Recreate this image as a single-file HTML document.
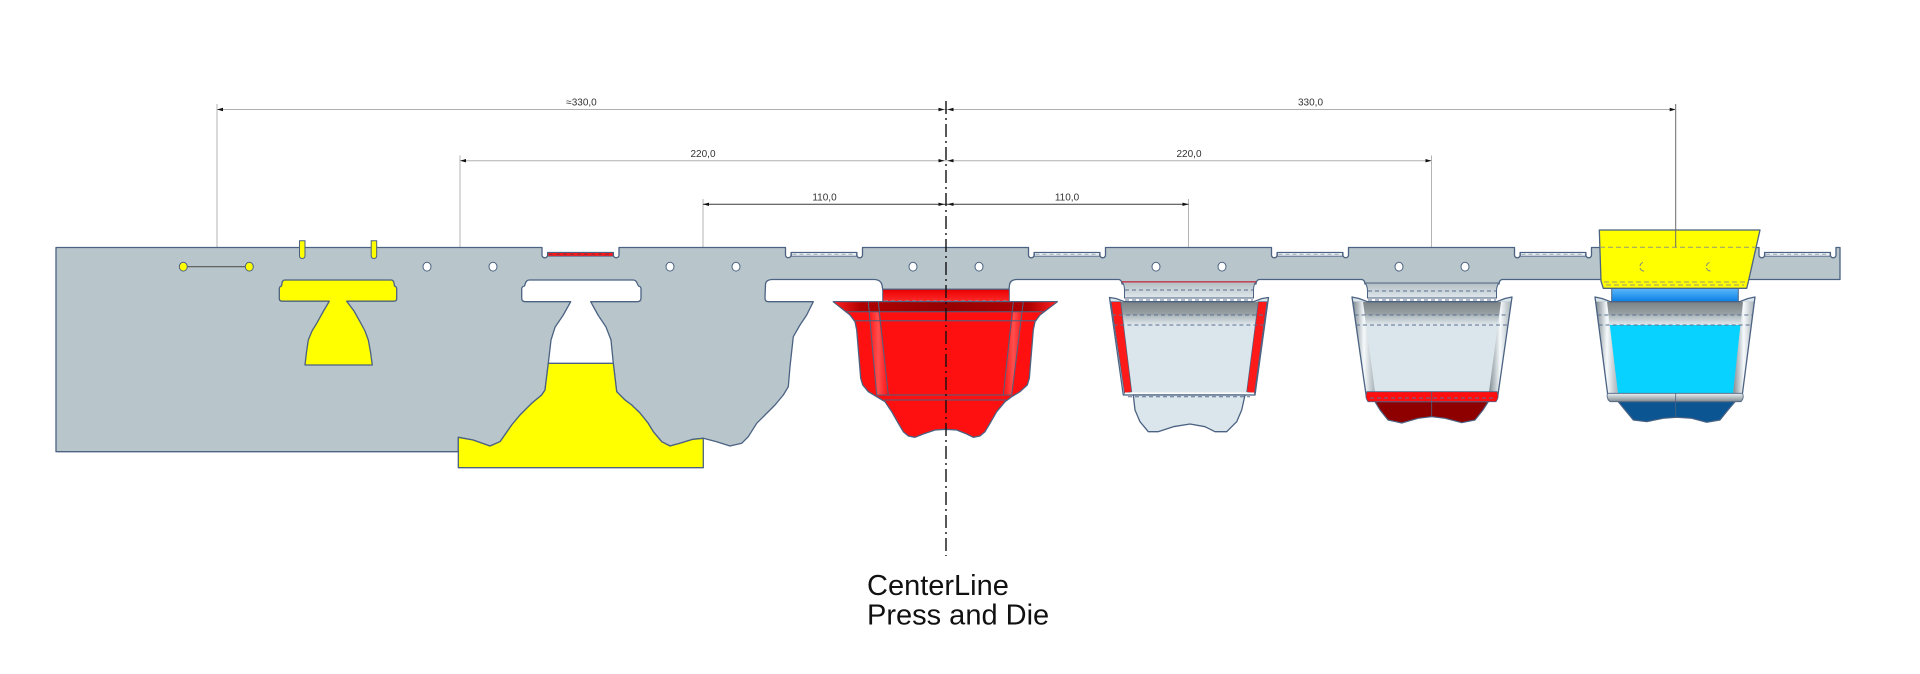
<!DOCTYPE html>
<html><head><meta charset="utf-8"><style>
html,body{margin:0;padding:0;background:#fff;}
svg{display:block;}
text{font-family:"Liberation Sans",Arial,sans-serif;}
</style></head><body>
<svg width="1920" height="674" viewBox="0 0 1920 674" xmlns="http://www.w3.org/2000/svg">
<defs>
<linearGradient id="redNeck" x1="0" y1="0" x2="0" y2="1"><stop offset="0" stop-color="#e80000"/><stop offset="1" stop-color="#ff2a2a"/></linearGradient>
<linearGradient id="redBand" x1="0" y1="0" x2="1" y2="0"><stop offset="0" stop-color="#ff2020"/><stop offset="0.12" stop-color="#b00000"/><stop offset="0.5" stop-color="#960000"/><stop offset="0.88" stop-color="#b00000"/><stop offset="1" stop-color="#ff2020"/></linearGradient>
<linearGradient id="redWall" x1="0" y1="0" x2="1" y2="0"><stop offset="0" stop-color="#ff1010"/><stop offset="0.5" stop-color="#ff6a6a"/><stop offset="1" stop-color="#ff1010"/></linearGradient>
<linearGradient id="darkBand" x1="0" y1="0" x2="0" y2="1"><stop offset="0" stop-color="#7b8286"/><stop offset="1" stop-color="#9ca4a8"/></linearGradient>
<linearGradient id="lightBand" x1="0" y1="0" x2="0" y2="1"><stop offset="0" stop-color="#aab5ba"/><stop offset="1" stop-color="#e1e9ed"/></linearGradient>
<linearGradient id="neckGray" x1="0" y1="0" x2="0" y2="1"><stop offset="0" stop-color="#b2bec4"/><stop offset="1" stop-color="#e0e8ec"/></linearGradient>
<linearGradient id="wall" x1="0" y1="0" x2="1" y2="0"><stop offset="0" stop-color="#7f8b92"/><stop offset="0.5" stop-color="#f6fafc"/><stop offset="1" stop-color="#a7b1b7"/></linearGradient>
<linearGradient id="blueNeck" x1="0" y1="0" x2="0" y2="1"><stop offset="0" stop-color="#6cc4ff"/><stop offset="1" stop-color="#0a7fe6"/></linearGradient>
<linearGradient id="botBand" x1="0" y1="0" x2="0" y2="1"><stop offset="0" stop-color="#eef3f5"/><stop offset="1" stop-color="#7d888e"/></linearGradient>
</defs>

<g stroke="#b4b4b4" stroke-width="1" fill="none">
<line x1="217" y1="104" x2="217" y2="266.7"/>
<line x1="460" y1="155.5" x2="460" y2="247.5"/>
<line x1="703" y1="199" x2="703" y2="247.5"/>
<line x1="1188.5" y1="199" x2="1188.5" y2="247.5"/>
<line x1="1431.5" y1="155.5" x2="1431.5" y2="247.5"/>
</g>

<path fill="#b8c6cb" stroke="#4b6282" stroke-width="1.3" stroke-linejoin="round" d="
M56,247.5 L542,247.5 L542,255 A2.8,2.8 0 0 0 547.6,255 L547.6,252.5 L613.4,252.5 L613.4,255 A2.8,2.8 0 0 0 619,255 L619,247.5
L785.5,247.5 L785.5,255 A2.8,2.8 0 0 0 791.1,255 L791.1,252.5 L856.9,252.5 L856.9,255 A2.8,2.8 0 0 0 862.5,255 L862.5,247.5
L1028.5,247.5 L1028.5,255 A2.8,2.8 0 0 0 1034.1,255 L1034.1,252.5 L1099.9,252.5 L1099.9,255 A2.8,2.8 0 0 0 1105.5,255 L1105.5,247.5
L1271.5,247.5 L1271.5,255 A2.8,2.8 0 0 0 1277.1,255 L1277.1,252.5 L1342.9,252.5 L1342.9,255 A2.8,2.8 0 0 0 1348.5,255 L1348.5,247.5
L1514.5,247.5 L1514.5,255 A2.8,2.8 0 0 0 1520.1,255 L1520.1,252.5 L1585.9,252.5 L1585.9,255 A2.8,2.8 0 0 0 1591.5,255 L1591.5,247.5
L1759,247.5 L1759,255 A2.8,2.8 0 0 0 1764.6,255 L1764.6,252.5 L1830.4,252.5 L1830.4,255 A2.8,2.8 0 0 0 1836,255 L1836,247.5
L1840,247.5 L1840,279.5
L1502,279.5 Q1499,280.5 1499,284 L1365,284 Q1365,280.5 1362,279.5
L1259,279.5 Q1256,280.5 1256,284 L1122,284 Q1122,280.5 1119,279.5
L1016,279.5 Q1010,280 1009.5,285 L1009,289.3 L882.7,289.3 L882,285 Q881,280 875,279.5
L771.7,279.5 Q766,280 765.5,284 L765,298 Q765,301.7 768.5,301.7 L813.3,301.7
L806.7,315 L800,325 L793.3,336.7 L790,366.7 L788.3,386.7 L783.3,395 L775,405 L765,415 L756.7,423.3 L748.3,436.7 L741.7,443.3 L730,446 L716.7,441.7 L703.3,438.3
L693,439.3 L680,443.3 L670,446 L661.7,441.7 L653.3,431.7 L648,423 L640,413 L631.7,405 L625,400 L616.7,391.7 L613.3,363.3 L611,340 L606,327 L598,315 L590.7,301.7
L637,301.7 Q641,301.7 641,298 L641,289 Q641,286.5 638.5,286 L637,283 Q636,280 633,280 L529.5,280 Q526.5,280 525.5,283 L524.5,286 Q521.7,286.5 521.7,289 L521.7,298 Q521.7,301.7 525.5,301.7 L570.7,301.7
L563.3,315 L555,327.3 L551,340 L548.3,363.3 L545,390 L541.7,395 L531.7,403.3 L520,415 L511.7,425 L500,441.7 L490,446 L473,440 L458.3,437.3 L458.3,451.7 L56,451.7 Z"/>

<g stroke="#4b6282" stroke-width="0.8">
<rect x="548" y="252.6" width="65" height="3.6" fill="#ff1a1a"/>
<rect x="791.5" y="252.6" width="65" height="3.6" fill="#e6ecef"/>
<rect x="1034.5" y="252.6" width="65" height="3.6" fill="#e6ecef"/>
<rect x="1277.5" y="252.6" width="65" height="3.6" fill="#e6ecef"/>
<rect x="1520.5" y="252.6" width="65" height="3.6" fill="#e6ecef"/>
<rect x="1765" y="252.6" width="65" height="3.6" fill="#e6ecef"/>
</g>
<g stroke-width="1" stroke-dasharray="4 3" fill="none">
<line x1="549" y1="254.3" x2="612" y2="254.3" stroke="#8a2a3a"/>
<line x1="792.5" y1="254.3" x2="855.5" y2="254.3" stroke="#9aa8b8"/>
<line x1="1035.5" y1="254.3" x2="1098.5" y2="254.3" stroke="#9aa8b8"/>
<line x1="1278.5" y1="254.3" x2="1341.5" y2="254.3" stroke="#9aa8b8"/>
<line x1="1521.5" y1="254.3" x2="1584.5" y2="254.3" stroke="#9aa8b8"/>
<line x1="1766" y1="254.3" x2="1829" y2="254.3" stroke="#9aa8b8"/>
</g>

<path fill="#ffff00" stroke="#4b6282" stroke-width="1.3" stroke-linejoin="round" d="M458.3,437.3 L473,440 L490,446 L500,441.7 L511.7,425 L520,415 L531.7,403.3 L541.7,395 L545,390 L548.3,363.3 L613.3,363.3 L616.7,391.7 L625,400 L631.7,405 L640,413 L648,423 L653.3,431.7 L661.7,441.7 L670,446 L680,443.3 L693,439.3 L703.3,438.3 L703.3,467.7 L458.3,467.7 Z"/>

<path fill="#ffff00" stroke="#4b6282" stroke-width="1.3" stroke-linejoin="round" d="M285,280 L391,280 Q393.5,280 394,283 L394.5,286 Q396.7,286.5 396.7,289 L396.7,298.5 Q396.7,301.2 394,301.2 L346.7,301.2 L354,311 L360,321.7 L365,331 L368.3,340 L370.5,352 L372.3,365 L305,365 L306.5,352 L308.3,340 L312,331 L316.7,323.3 L323,312 L329.3,301.2 L282,301.2 Q279.3,301.2 279.3,298.5 L279.3,289 Q279.3,286.5 281.5,286 L282,283 Q282.5,280 285,280 Z"/>

<path fill="#ffff00" stroke="#4b6282" stroke-width="1" d="M299.5,240.8 L305,240.8 L305,255.5 Q305,258.5 302.2,258.5 Q299.5,258.5 299.5,255.5 Z"/>
<path fill="#ffff00" stroke="#4b6282" stroke-width="1" d="M371.2,240.8 L376.7,240.8 L376.7,255.5 Q376.7,258.5 373.9,258.5 Q371.2,258.5 371.2,255.5 Z"/>

<line x1="183.3" y1="266.7" x2="249.3" y2="266.7" stroke="#555" stroke-width="1.2"/>
<g stroke="#4b6282" stroke-width="1">
<ellipse cx="183.3" cy="266.7" rx="4" ry="4.4" fill="#ffff00"/>
<ellipse cx="249.3" cy="266.7" rx="4" ry="4.4" fill="#ffff00"/>
<g fill="#fff">
<ellipse cx="427" cy="266.7" rx="4" ry="4.4"/><ellipse cx="493" cy="266.7" rx="4" ry="4.4"/>
<ellipse cx="670" cy="266.7" rx="4" ry="4.4"/><ellipse cx="736" cy="266.7" rx="4" ry="4.4"/>
<ellipse cx="913" cy="266.7" rx="4" ry="4.4"/><ellipse cx="979" cy="266.7" rx="4" ry="4.4"/>
<ellipse cx="1156" cy="266.7" rx="4" ry="4.4"/><ellipse cx="1222" cy="266.7" rx="4" ry="4.4"/>
<ellipse cx="1399" cy="266.7" rx="4" ry="4.4"/><ellipse cx="1465" cy="266.7" rx="4" ry="4.4"/>
</g>
</g>

<rect x="882.7" y="289.3" width="126.6" height="12.4" fill="url(#redNeck)" stroke="#4b6282" stroke-width="1"/>
<path fill="#ff1010" stroke="#4b6282" stroke-width="1.3" stroke-linejoin="round" d="M833.3,301.7 L1057.3,301.7 L1040,315 L1035,321.7 L1033.3,330 L1029.3,378.3 L1027.3,385 L1020,391.7 L1011.7,396.7 L1005,401.7 L996.7,411.7 L990,423.3 L985,431.7 L980,436 L973.3,437.3 L966.7,434 L956.7,430 L945.7,429.3 L935,430 L923.3,434 L915,437.3 L908.3,436 L903.3,431.7 L898.3,423.3 L891.7,411.7 L885,401.7 L876.7,396.7 L868.3,391.7 L862.7,385 L860.7,378.3 L856.7,330 L855,321.7 L850,315 Z"/>
<polygon points="834.5,302.3 1056,302.3 1043,311.7 847,311.7" fill="url(#redBand)"/>
<polygon points="868.3,311.7 878.3,311.7 888.3,395 876.7,395" fill="url(#redWall)" opacity="0.7"/>
<polygon points="1013.3,311.7 1023.3,311.7 1011.7,395 1003.3,395" fill="url(#redWall)" opacity="0.7"/>
<g stroke="#4b6282" stroke-width="1" fill="none">
<line x1="846.5" y1="311.7" x2="1044" y2="311.7"/>
<line x1="855.5" y1="320.7" x2="1035" y2="320.7"/>
<line x1="868.3" y1="301.7" x2="876.7" y2="395"/>
<line x1="878.3" y1="301.7" x2="888.3" y2="395"/>
<line x1="1023.3" y1="301.7" x2="1011.7" y2="395"/>
<line x1="1013.3" y1="301.7" x2="1003.3" y2="395"/>
<line x1="876.7" y1="395" x2="1011.7" y2="395"/>
<line x1="884" y1="400" x2="1006" y2="400"/>
</g>
<line x1="884" y1="300.5" x2="1008" y2="300.5" stroke="#c06070" stroke-width="1" stroke-dasharray="4 3"/>

<path d="M1122,281.7 L1256,281.7 Q1253.5,285 1253.5,290 L1253.5,298 L1124.5,298 L1124.5,290 Q1124.5,285 1122,281.7 Z" fill="url(#neckGray)" stroke="#4b6282" stroke-width="1"/>
<line x1="1122" y1="281.9" x2="1256" y2="281.9" stroke="#d03040" stroke-width="1.2"/>
<path d="M1109.5,297.5 L1116,298.5 L1124.5,301.7 L1253.5,301.7 L1262,298.5 L1268.5,297.5 L1255,395 L1123.3,395 Z" fill="#dae6eb"/>
<polygon points="1110.1,301.7 1267.9,301.7 1266.1,315 1112,315" fill="url(#darkBand)"/>
<polygon points="1112,315 1266.1,315 1264.7,325 1113.4,325" fill="url(#lightBand)"/>
<polygon points="1111,301.7 1120.7,301.7 1131.7,391.7 1124.5,393.3" fill="#ff1a1a" stroke="#4b6282" stroke-width="0.7"/>
<polygon points="1258.3,301.7 1267,301.7 1254.5,393.3 1246.7,391.7" fill="#ff1a1a" stroke="#4b6282" stroke-width="0.7"/>
<line x1="1125" y1="393.3" x2="1254" y2="393.3" stroke="#fff" stroke-width="1.6"/>
<path d="M1109.5,297.5 L1116,298.5 L1124.5,301.7 L1253.5,301.7 L1262,298.5 L1268.5,297.5 L1255,395 L1123.3,395 Z" fill="none" stroke="#4b6282" stroke-width="1.3" stroke-linejoin="round"/>
<path d="M1133.3,395 L1135,410 L1140,421.7 L1148.3,431.7 L1158,431.7 L1173.3,426.7 L1190,424 L1205,426.7 L1215,431.7 L1226.7,431.7 L1236.7,421.7 L1241.7,410 L1245,395 Z" fill="#dae6eb" stroke="#4b6282" stroke-width="1.3" stroke-linejoin="round"/>
<g stroke="#5a7090" stroke-width="1" stroke-dasharray="4 3" fill="none">
<line x1="1125" y1="290" x2="1253" y2="290"/>
<line x1="1125" y1="300" x2="1253" y2="300"/>
<line x1="1112" y1="315" x2="1266" y2="315"/>
<line x1="1113.4" y1="325" x2="1264.7" y2="325"/>
<line x1="1128" y1="396.7" x2="1250" y2="396.7"/>
</g>

<path d="M1365,283 L1499,283 Q1496.5,286 1496.5,291 L1496.5,298 L1367.5,298 L1367.5,291 Q1367.5,286 1365,283 Z" fill="url(#neckGray)" stroke="#4b6282" stroke-width="1"/>
<path d="M1352,297 L1359,298.5 L1367.5,301.7 L1496.5,301.7 L1505,298.5 L1512,297 L1497.5,398 L1366.5,398 Z" fill="#dae6eb"/>
<polygon points="1352.7,301.7 1511.3,301.7 1509.4,315 1354.6,315" fill="url(#darkBand)"/>
<polygon points="1354.6,315 1509.4,315 1508,325 1356,325" fill="url(#lightBand)"/>
<polygon points="1353,301.7 1363,301.7 1375,391.7 1365.6,391.7" fill="url(#wall)"/>
<polygon points="1501,301.7 1511.3,301.7 1498.4,391.7 1489,391.7" fill="url(#wall)"/>
<path d="M1352,297 L1359,298.5 L1367.5,301.7 L1496.5,301.7 L1505,298.5 L1512,297 L1497.5,398 L1366.5,398 Z" fill="none" stroke="#4b6282" stroke-width="1.3" stroke-linejoin="round"/>
<path d="M1375,401.7 L1488.3,401.7 L1483,410 L1475,420 L1461.7,422.7 L1445,418.3 L1431.7,416.7 L1418.3,418.3 L1401.7,423 L1388,420 L1380,410 Z" fill="#8e0000" stroke="#4b6282" stroke-width="1.2" stroke-linejoin="round"/>
<path d="M1367,391.7 L1497,391.7 Q1499.5,396.7 1496,401.7 L1368,401.7 Q1364.5,396.7 1367,391.7 Z" fill="#ff0f0f" stroke="#4b6282" stroke-width="0.8"/>
<line x1="1431.7" y1="392" x2="1431.7" y2="417" stroke="#4b6282" stroke-width="0.8"/>
<g stroke="#5a7090" stroke-width="1" stroke-dasharray="4 3" fill="none">
<line x1="1368" y1="291" x2="1496" y2="291"/>
<line x1="1368" y1="300" x2="1496" y2="300"/>
<line x1="1354.6" y1="315" x2="1509.4" y2="315"/>
<line x1="1356" y1="325" x2="1508" y2="325"/>
<line x1="1370" y1="398" x2="1494" y2="398"/>
</g>

<rect x="1611.7" y="285.7" width="126.6" height="16" fill="url(#blueNeck)" stroke="#4b6282" stroke-width="1"/>
<path d="M1595,297 L1602,298.5 L1610.5,301.7 L1739.5,301.7 L1748,298.5 L1755,297 L1741.6,400 L1608.4,400 Z" fill="#dae6eb"/>
<polygon points="1595.6,301.7 1754.4,301.7 1752.7,315 1597.3,315" fill="url(#darkBand)"/>
<polygon points="1597.3,315 1752.7,315 1751.4,325 1598.6,325" fill="url(#lightBand)"/>
<polygon points="1609,325 1741,325 1733,393.3 1618,393.3" fill="#08d2ff"/>
<polygon points="1596,301.7 1607,301.7 1618,393.3 1607.5,393.3" fill="url(#wall)"/>
<polygon points="1743,301.7 1754.4,301.7 1742.5,393.3 1733,393.3" fill="url(#wall)"/>
<path d="M1595,297 L1602,298.5 L1610.5,301.7 L1739.5,301.7 L1748,298.5 L1755,297 L1741.6,400 L1608.4,400 Z" fill="none" stroke="#4b6282" stroke-width="1.3" stroke-linejoin="round"/>
<path d="M1618.3,401.7 L1735,401.7 L1728,410 L1720,420 L1706.7,422.3 L1691.7,418.3 L1676.7,417.3 L1663.3,418.3 L1646.7,421.7 L1633.3,420 L1625,410 Z" fill="#0b5692" stroke="#4b6282" stroke-width="1.2" stroke-linejoin="round"/>
<path d="M1607.5,393.3 L1742.5,393.3 Q1744.5,398 1741,401.7 L1610,401.7 Q1606,398 1607.5,393.3 Z" fill="url(#botBand)" stroke="#4b6282" stroke-width="0.8"/>
<line x1="1675.7" y1="393" x2="1675.7" y2="417" stroke="#4b6282" stroke-width="0.8"/>
<g stroke="#5a7090" stroke-width="1" stroke-dasharray="4 3" fill="none">
<line x1="1597.3" y1="315" x2="1752.7" y2="315"/>
<line x1="1598.6" y1="325" x2="1751.4" y2="325"/>
</g>
<path d="M1599.3,230 L1760,230 L1748.5,281 L1746.7,288.3 L1603.3,288.3 L1601,281 Z" fill="#ffff00" stroke="#4b6282" stroke-width="1.3" stroke-linejoin="round"/>
<g stroke="#9a9a7a" stroke-width="1" stroke-dasharray="5 3" fill="none">
<line x1="1600" y1="247.3" x2="1756" y2="247.3"/>
<line x1="1604" y1="282" x2="1746" y2="282"/>
<line x1="1606" y1="285" x2="1744" y2="285"/>
</g>
<g stroke="#6a7a90" stroke-width="0.9" fill="none">
<path d="M1643,262.5 A4,4.4 0 0 0 1640,266 M1640,268 A4,4.4 0 0 0 1644,271"/>
<path d="M1709.5,262.5 A4,4.4 0 0 0 1706.5,266 M1706.5,268 A4,4.4 0 0 0 1710.5,271"/>
</g>
<line x1="1675.7" y1="104" x2="1675.7" y2="247.3" stroke="#6a6a6a" stroke-width="1"/>

<g stroke-width="1">
<line x1="217" y1="109.5" x2="1675.7" y2="109.5" stroke="#b0b0b0"/>
<line x1="460" y1="160.7" x2="1431.5" y2="160.7" stroke="#b0b0b0"/>
<line x1="703" y1="204.3" x2="1188.5" y2="204.3" stroke="#3a3a3a"/>
</g>
<g fill="#111">
<polygon points="217,109.5 223,107.8 223,111.2"/>
<polygon points="944.5,109.5 938.5,107.8 938.5,111.2"/>
<polygon points="947.5,109.5 953.5,107.8 953.5,111.2"/>
<polygon points="1675.7,109.5 1669.7,107.8 1669.7,111.2"/>
<polygon points="460,160.7 466,159 466,162.4"/>
<polygon points="944.5,160.7 938.5,159 938.5,162.4"/>
<polygon points="947.5,160.7 953.5,159 953.5,162.4"/>
<polygon points="1431.5,160.7 1425.5,159 1425.5,162.4"/>
<polygon points="703,204.3 709,202.6 709,206"/>
<polygon points="944.5,204.3 938.5,202.6 938.5,206"/>
<polygon points="947.5,204.3 953.5,202.6 953.5,206"/>
<polygon points="1188.5,204.3 1182.5,202.6 1182.5,206"/>
</g>
<g font-size="10" fill="#333" text-anchor="middle">
<text x="581.5" y="105.5">≈330,0</text>
<text x="1310.5" y="105.5">330,0</text>
<text x="703" y="157">220,0</text>
<text x="1189" y="157">220,0</text>
<text x="824.5" y="200.5">110,0</text>
<text x="1067" y="200.5">110,0</text>
</g>

<line x1="946" y1="101" x2="946" y2="556" stroke="#111" stroke-width="1.4" stroke-dasharray="13 4 2 4"/>

<g font-size="29" fill="#111">
<text x="867" y="595">CenterLine</text>
<text x="867" y="624.5">Press and Die</text>
</g>
</svg>
</body></html>
